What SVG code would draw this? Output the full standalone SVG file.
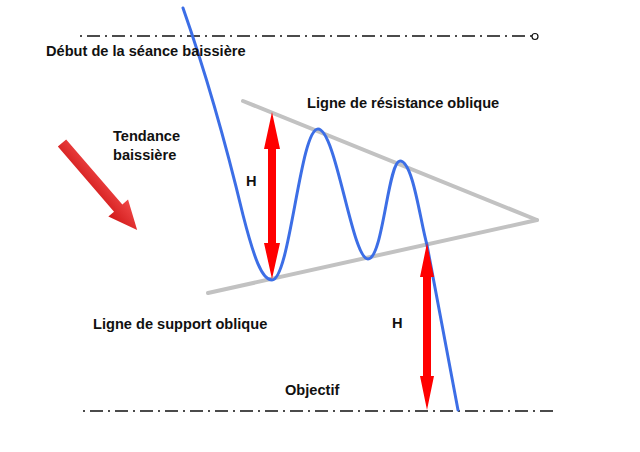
<svg xmlns="http://www.w3.org/2000/svg" width="640" height="452" viewBox="0 0 640 452">
<defs>
<style>
.lbl{font-family:"Liberation Sans",Arial,sans-serif;font-weight:bold;font-size:14.6px;fill:#111}
.dash{stroke:#111;stroke-width:1.6;fill:none;stroke-dasharray:2 5 13 5}
.gray{stroke:#c2c2c2;stroke-width:4;fill:none;stroke-linecap:round}
.price{stroke:#3c6ee6;stroke-width:3;fill:none;stroke-linecap:round;stroke-linejoin:round}
.red{fill:#ff0000}
</style>
<linearGradient id="tg" x1="0" y1="0" x2="0" y2="1">
<stop offset="0" stop-color="#f04848"/>
<stop offset="1" stop-color="#d01818"/>
</linearGradient>
</defs>
<rect width="640" height="452" fill="#fff"/>
<g id="connectors">
<line class="dash" x1="80" y1="36" x2="532" y2="36"/>
<circle cx="535" cy="36.5" r="3" fill="#fff" stroke="#111" stroke-width="1.2"/>
<line class="dash" x1="83" y1="411" x2="557" y2="411"/>
<line class="gray" x1="243" y1="101" x2="537" y2="220"/>
<line class="gray" x1="208" y1="293" x2="537" y2="220"/>
<path class="price" d="M183,8 C203,65 225,140 243,215 C254,258 262,280 272,280 C290,280 300,129 318,129 C336,129 352,259 368,259 C383,259 388,161 400,161 C413,161 420,220 427,245 L458,410"/>
</g>
<g id="arrow-h-left">
<polygon class="red" points="272,112 280,149 276,149 276,243 280,243 272,279 264,243 268,243 268,149 264,149"/>
</g>
<g id="arrow-h-right">
<polygon class="red" points="427,243 434,277 431,277 431,376 434,376 427,410 420,376 423,376 423,277 420,277"/>
</g>
<g id="trend-arrow" transform="translate(62,143) rotate(49.2)">
<polygon fill="url(#tg)" points="0,-5.5 86,-5.5 86,-13 115,0 86,13 86,5.5 0,5.5"/>
</g>
<g id="labels">
<text class="lbl" x="46" y="56">Début de la séance baissière</text>
<text class="lbl" x="113" y="141">Tendance</text>
<text class="lbl" x="113" y="160">baissière</text>
<text class="lbl" x="246" y="186">H</text>
<text class="lbl" x="307" y="108">Ligne de résistance oblique</text>
<text class="lbl" x="93" y="329">Ligne de support oblique</text>
<text class="lbl" x="392" y="328">H</text>
<text class="lbl" x="285" y="395">Objectif</text>
</g>
</svg>
